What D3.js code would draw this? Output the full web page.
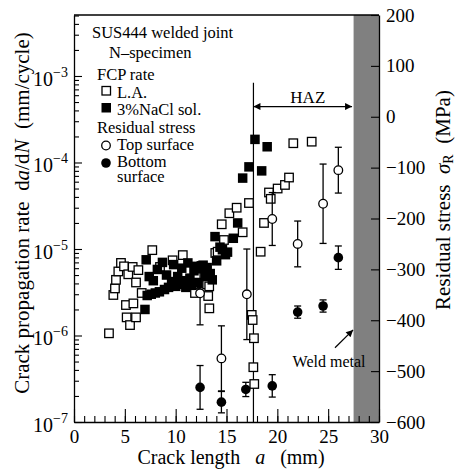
<!DOCTYPE html>
<html><head><meta charset="utf-8">
<script src="https://cdn.jsdelivr.net/npm/d3@7"></script>
</head>
<body style="margin:0;background:#fff">
<svg id="c" width="456" height="473"></svg>
<script>
// ---------- data ----------
const xTicks = [0,5,10,15,20,25,30];
const yLeftTicks = [1e-7,1e-6,1e-5,1e-4,1e-3];
const yLeftExp = ["−7","−6","−5","−4","−3"];
const yRightTicks = [200,100,0,-100,-200,-300,-400,-500,-600];

// FCP rate, L.A. (open squares)
const laA = [3.44,3.87,4.03,4.13,4.36,4.62,4.92,5.11,5.18,5.34,5.51,5.77,5.84,6.10,6.10,6.33,6.66,7.7,8.46,9.7,10.7,11.9,12.56,13.1,13.2,13.3,13.31,13.9,14.13,14.53,14.75,15.28,16.0,16.59,17.21,17.48,17.57,17.64,17.7,17.73,18.36,18.69,19.18,19.35,20.03,20.75,21.15,21.57,23.38];
const laRate = [1.06e-6,2.94e-6,3.5e-6,4.4e-6,5.5e-6,6.9e-6,6.3e-6,2.25e-6,1.62e-6,5.1e-6,1.32e-6,6.2e-6,2.35e-6,4.1e-6,1.62e-6,5.7e-6,3.1e-6,9.7e-6,6.2e-6,7.4e-6,8.5e-6,3.1e-6,4.0e-6,3.9e-6,2.86e-6,3.7e-6,2.06e-6,9.0e-6,9.3e-6,1.93e-5,1.27e-5,2.59e-5,3.0e-5,1.56e-5,3.4e-5,1.73e-6,1.51e-6,4.3e-7,9.3e-7,2.75e-7,9.3e-6,2.0e-5,4.5e-5,3.8e-5,5.0e-5,5.5e-5,6.7e-5,1.67e-4,1.74e-4];

// FCP rate, 3%NaCl sol. (filled squares)
const naA = [6.98,7.1,7.2,7.4,7.6,7.8,8.0,8.2,8.4,8.7,8.9,9.1,9.3,9.6,9.8,10.0,10.2,10.4,10.6,10.8,11.0,11.2,11.4,11.6,11.8,12.0,12.2,12.4,12.7,12.9,13.1,13.4,13.6,13.87,14.03,14.36,14.6,14.9,15.1,15.67,16.1,16.59,17.21,17.8,18.46,19.0];
const naRate = [2.0e-6,7.5e-6,2.9e-6,4.8e-6,3.0e-6,4.3e-6,3.1e-6,5.8e-6,3.2e-6,7.0e-6,3.4e-6,5.0e-6,3.6e-6,4.2e-6,6.6e-6,3.7e-6,4.8e-6,3.9e-6,6.0e-6,4.3e-6,3.6e-6,6.9e-6,4.6e-6,3.8e-6,5.6e-6,6.3e-6,4.1e-6,5.9e-6,6.5e-6,4.8e-6,6.1e-6,5.2e-6,4.4e-6,1.39e-5,7.3e-6,1.05e-5,9.8e-6,8.6e-6,9.2e-6,1.33e-5,2.0e-5,6.6e-5,8.9e-5,1.85e-4,8.0e-5,1.52e-4];

// Residual stress, top surface (open circles)
const topA = [12.4,14.5,17.0,19.5,22.0,24.5,26.0];
const topS = [-347,-475,-349,-201,-250,-171,-105];
const topErr = [62,64,89,52,45,78,45];
// Residual stress, bottom surface (filled circles)
const botA = [12.4,14.5,16.9,19.5,22.0,24.5,26.0];
const botS = [-532,-561,-536,-529,-384,-372,-277];
const botErr = [43,21,14,22,12,12,23];

const hazStart = 17.65, weldStart = 27.5;

// ---------- layout ----------
const FONT = '"Liberation Serif"';
const svg = d3.select("#c");
const L=74, R=379, T=15, B=422;
const x = d3.scaleLinear([0,30],[L,R]);
const yL = d3.scaleLog([1e-7, Math.pow(10,-2.295)],[B,T]);
const yR = d3.scaleLinear([-600,200],[B,T]);

// weld metal region
svg.append("rect").attr("x",x(weldStart)).attr("y",T)
  .attr("width",x(30)-x(weldStart)).attr("height",B-T).attr("fill","#808080");

// axes
const gx = svg.append("g").attr("transform",`translate(0,${B})`)
  .call(d3.axisBottom(x).tickValues(xTicks).tickSizeInner(-13).tickSizeOuter(0).tickPadding(8));
gx.selectAll("text").attr("font-size",19);
svg.append("g").attr("transform",`translate(0,${B})`)
  .call(d3.axisBottom(x).tickValues(d3.range(0,31,1)).tickSize(-6).tickFormat(""))
  .call(g=>g.select(".domain").remove());

svg.append("g").attr("transform",`translate(${L},0)`)
  .call(d3.axisLeft(yL).tickValues(yLeftTicks).tickSizeInner(-8).tickSizeOuter(0).tickFormat(""));
const minorL = [];
[-7,-6,-5,-4,-3].forEach(e=>{for(let m=2;m<=9;m++){const v=m*Math.pow(10,e); if(v<=yL.domain()[1]) minorL.push(v);}});
svg.append("g").attr("transform",`translate(${L},0)`)
  .call(d3.axisLeft(yL).tickValues(minorL).tickSize(-5).tickFormat(""))
  .call(g=>g.select(".domain").remove());
const lab = svg.append("g");
yLeftTicks.forEach((v,i)=>{
  const t = lab.append("text").attr("x",L-6).attr("y",yL(v)+10).attr("text-anchor","end").attr("font-size",20);
  t.append("tspan").text("10");
  t.append("tspan").attr("font-size",14).attr("dy",-9).text(yLeftExp[i]);
});

const gr = svg.append("g").attr("transform",`translate(${R},0)`)
  .call(d3.axisRight(yR).tickValues(yRightTicks).tickSizeInner(-8).tickSizeOuter(0).tickPadding(7));
gr.selectAll("text").attr("font-size",19);
svg.selectAll(".domain").attr("stroke-width",1.3);
svg.selectAll(".tick line").attr("stroke-width",1.1);

svg.append("line").attr("x1",L).attr("x2",R).attr("y1",T).attr("y2",T).attr("stroke","#000").attr("stroke-width",1.3);

// HAZ line and arrow
svg.append("defs").html(`
<marker id="ah" viewBox="0 0 10 10" refX="10" refY="5" markerWidth="10" markerHeight="7" markerUnits="userSpaceOnUse" orient="auto-start-reverse"><path d="M0,0L10,5L0,10z" fill="#000"/></marker>
<marker id="ah2" viewBox="0 0 10 10" refX="10" refY="5" markerWidth="9" markerHeight="7" markerUnits="userSpaceOnUse" orient="auto"><path d="M0,0L10,5L0,10z" fill="#000"/></marker>`);
svg.append("line").attr("x1",x(hazStart)).attr("x2",x(hazStart)).attr("y1",yR(67)).attr("y2",B)
  .attr("stroke","#000").attr("stroke-width",1.2);
svg.append("line").attr("x1",x(hazStart)).attr("x2",x(27.35)).attr("y1",yR(20)).attr("y2",yR(20))
  .attr("stroke","#000").attr("stroke-width",1.2)
  .attr("marker-start","url(#ah)").attr("marker-end","url(#ah)");
svg.append("text").attr("x",x(23.0)).attr("y",yR(20)-4).attr("text-anchor","middle").attr("font-size",17).text("HAZ");

// Weld metal annotation
svg.append("line").attr("x1",x(25.67)).attr("y1",yR(-454)).attr("x2",x(27.45)).attr("y2",yR(-419))
  .attr("stroke","#000").attr("stroke-width",1.2).attr("marker-end","url(#ah2)");
svg.append("text").attr("x",x(21.5)).attr("y",366.5).attr("font-size",16).text("Weld metal");

// open squares
const s1 = 8.5;
svg.append("g").selectAll("rect").data(d3.zip(laA,laRate)).join("rect")
  .attr("x",d=>x(d[0])-s1/2).attr("y",d=>yL(d[1])-s1/2).attr("width",s1).attr("height",s1)
  .attr("fill","#fff").attr("stroke","#000").attr("stroke-width",1.3);
// filled squares
const s2 = 9.5;
svg.append("g").selectAll("rect").data(d3.zip(naA,naRate)).join("rect")
  .attr("x",d=>x(d[0])-s2/2).attr("y",d=>yL(d[1])-s2/2).attr("width",s2).attr("height",s2)
  .attr("fill","#000");

// error bars
function errBars(A,S,E){
  const g = svg.append("g").attr("stroke","#000").attr("stroke-width",1.3);
  const d = d3.zip(A,S,E);
  g.selectAll(".v").data(d).join("line").attr("x1",d=>x(d[0])).attr("x2",d=>x(d[0]))
    .attr("y1",d=>yR(d[1]+d[2])).attr("y2",d=>yR(d[1]-d[2]));
  g.selectAll(".t").data(d).join("line").attr("x1",d=>x(d[0])-3.5).attr("x2",d=>x(d[0])+3.5)
    .attr("y1",d=>yR(d[1]+d[2])).attr("y2",d=>yR(d[1]+d[2]));
  g.selectAll(".b").data(d).join("line").attr("x1",d=>x(d[0])-3.5).attr("x2",d=>x(d[0])+3.5)
    .attr("y1",d=>yR(d[1]-d[2])).attr("y2",d=>yR(d[1]-d[2]));
}
errBars(topA,topS,topErr);
errBars(botA,botS,botErr);
svg.append("g").selectAll("circle").data(d3.zip(topA,topS)).join("circle")
  .attr("cx",d=>x(d[0])).attr("cy",d=>yR(d[1])).attr("r",4.3)
  .attr("fill","#fff").attr("stroke","#000").attr("stroke-width",1.3);
svg.append("g").selectAll("circle").data(d3.zip(botA,botS)).join("circle")
  .attr("cx",d=>x(d[0])).attr("cy",d=>yR(d[1])).attr("r",4.8).attr("fill","#000");

// legend
const lg = svg.append("g");
function lt(xp,yp,s){ return lg.append("text").attr("x",xp).attr("y",yp).attr("font-size",16.5).text(s); }
lt(92,38,"SUS444 welded joint");
lt(109,58,"N–specimen");
lt(97,80,"FCP rate");
lg.append("rect").attr("x",102).attr("y",86.5).attr("width",8.5).attr("height",8.5).attr("fill","#fff").attr("stroke","#000").attr("stroke-width",1.3);
lt(117,98,"L.A.");
lg.append("rect").attr("x",101.5).attr("y",103).attr("width",9.5).attr("height",9.5).attr("fill","#000");
lt(117,115,"3%NaCl sol.");
lt(97,133,"Residual stress");
lg.append("circle").attr("cx",106).attr("cy",145.5).attr("r",4.3).attr("fill","#fff").attr("stroke","#000").attr("stroke-width",1.3);
lt(117,150,"Top surface");
lg.append("circle").attr("cx",106).attr("cy",163).attr("r",4.8).attr("fill","#000");
lt(117,167,"Bottom");
lt(117,182,"surface");

// axis titles
const xt = svg.append("text").attr("x",231).attr("y",464).attr("text-anchor","middle").attr("font-size",20).style("white-space","pre");
xt.append("tspan").text("Crack length   ");
xt.append("tspan").attr("font-style","italic").text("a");
xt.append("tspan").text("   (mm)");

const ylt = svg.append("text").attr("transform","translate(29,213) rotate(-90)").attr("text-anchor","middle").attr("font-size",21).style("white-space","pre");
ylt.append("tspan").text("Crack propagation rate  d");
ylt.append("tspan").attr("font-style","italic").text("a");
ylt.append("tspan").text("/d");
ylt.append("tspan").attr("font-style","italic").text("N");
ylt.append("tspan").text("  (mm/cycle)");

const yrt = svg.append("text").attr("transform","translate(450,200) rotate(-90)").attr("text-anchor","middle").attr("font-size",21).style("white-space","pre");
yrt.append("tspan").text("Residual stress  ");
yrt.append("tspan").attr("font-style","italic").text("σ");
yrt.append("tspan").attr("font-size",14).attr("dy",3).text("R");
yrt.append("tspan").attr("dy",-3).text("  (MPa)");

// font for every text
svg.selectAll("g").attr("font-family",null);
svg.selectAll("text").style("font-family",FONT).style("fill","#000");
</script></body></html>
